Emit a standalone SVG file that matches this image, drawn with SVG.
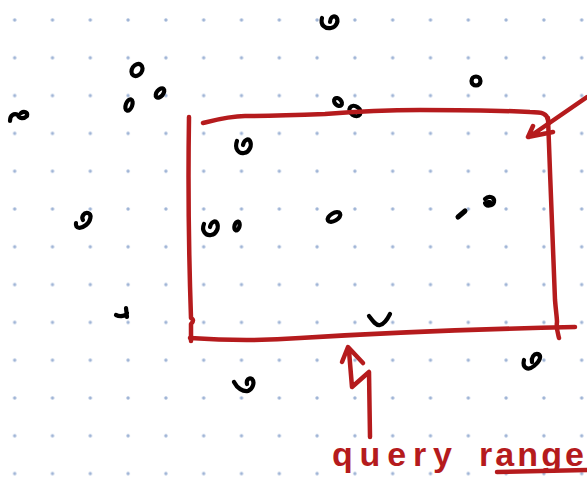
<svg xmlns="http://www.w3.org/2000/svg" width="587" height="484" viewBox="0 0 587 484">
<style>
.red{fill:none;stroke:#b51b1d;stroke-width:4.5;stroke-linecap:round;stroke-linejoin:round}
.ink{fill:none;stroke:#000;stroke-width:4.2;stroke-linecap:round;stroke-linejoin:round}
.label{fill:#b51b1d;font-family:"Liberation Sans",Arial,sans-serif;font-size:34px;font-weight:bold}
</style>
<defs>
<pattern id="dots" patternUnits="userSpaceOnUse" x="-4.2" y="1.1" width="37.8" height="37.8">
<circle cx="18.9" cy="18.9" r="1.7" fill="#9fb4d6"/>
</pattern>
</defs>
<rect width="587" height="484" fill="#fff"/>
<rect width="587" height="484" fill="url(#dots)"/>
<g id="points">
<path class="ink" d="M322,18 C320,25 325,29 331,28 C337,27 339,20 336,17 C333,15 330,18 330,22"/>
<ellipse class="ink" cx="137" cy="70" rx="5" ry="6.5" transform="rotate(35 137 70)"/>
<ellipse class="ink" cx="160" cy="93" rx="3.2" ry="5.5" transform="rotate(40 160 93)"/>
<ellipse class="ink" cx="129" cy="105" rx="3.2" ry="6" transform="rotate(20 129 105)"/>
<path class="ink" d="M10,121 C10,115 14,113 18,115 C19,119 24,119 27,116 C28,112 24,111 21,113"/>
<circle class="ink" cx="476" cy="81" r="4.5"/>
<ellipse class="ink" cx="338" cy="102" rx="3.2" ry="4.5" transform="rotate(-45 338 102)"/>
<ellipse class="ink" cx="355" cy="111" rx="4.5" ry="6" transform="rotate(-55 355 111)"/>
<path class="ink" d="M237,141 C234,149 239,154 244,153 C250,152 252,145 250,141 C248,138 244,140 243,145"/>
<path class="ink" d="M204,224 C201,231 206,236 211,235 C217,234 219,227 217,223 C215,220 211,222 210,227"/>
<ellipse class="ink" cx="237" cy="226" rx="2.5" ry="4.5" transform="rotate(15 237 226)"/>
<ellipse class="ink" cx="334" cy="217" rx="7" ry="3.8" transform="rotate(-30 334 217)"/>
<path class="ink" d="M458,217 L465,211" style="stroke-width:5"/>
<path class="ink" d="M485,199 C489,195 495,197 494,202 C493,206 486,207 485,203 M488,202 L490,202"/>
<path class="ink" d="M76,223 C75,229 81,229 86,225 C91,221 92,214 88,213 C84,212 81,217 83,220"/>
<path class="ink" d="M116,315 C120,317 126,316 127,313 M126,308 L127,317"/>
<path class="ink" d="M369,316 C372,320 376,326 380,325 C385,324 388,318 390,314"/>
<path class="ink" d="M234,382 C237,388 243,392 248,391 C253,389 255,382 252,379 C249,377 246,380 247,384"/>
<path class="ink" d="M524,360 C522,368 528,371 534,366 C540,361 542,356 538,354 C534,353 531,358 532,362"/>
</g>
<g id="query-range">
<path class="red" d="M189,117 C188,180 189,260 191,318 Q195,320 191,324 L191,341"/>
<path class="red" d="M190,338 C220,340 260,341 300,338 C380,333 480,329 575,327"/>
<path class="red" d="M203,123 C215,120 230,116 245,116 C270,116 300,115 325,114 C350,112 380,110 420,110 C470,110 510,111 530,112 C543,112 547,114 548,120"/>
<path class="red" d="M548,118 C550,180 554,260 555,300 C556,312 557,318 557,322 C556,328 558,334 559,338"/>
</g>
<g id="connectors">
<path class="red" d="M587,97 L529,137 M533,126 L528,137 L553,132"/>
<path class="red" d="M342,362 L348,347 L363,363 M349,351 L352,387 L369,372 L370,437"/>
</g>
<g id="labels">
<text class="label" x="332" y="466" textLength="120" lengthAdjust="spacing">query</text>
<text class="label" x="479" y="466" textLength="105" lengthAdjust="spacing">range</text>
<path class="red" d="M497,472 L587,470"/>
</g>
</svg>
